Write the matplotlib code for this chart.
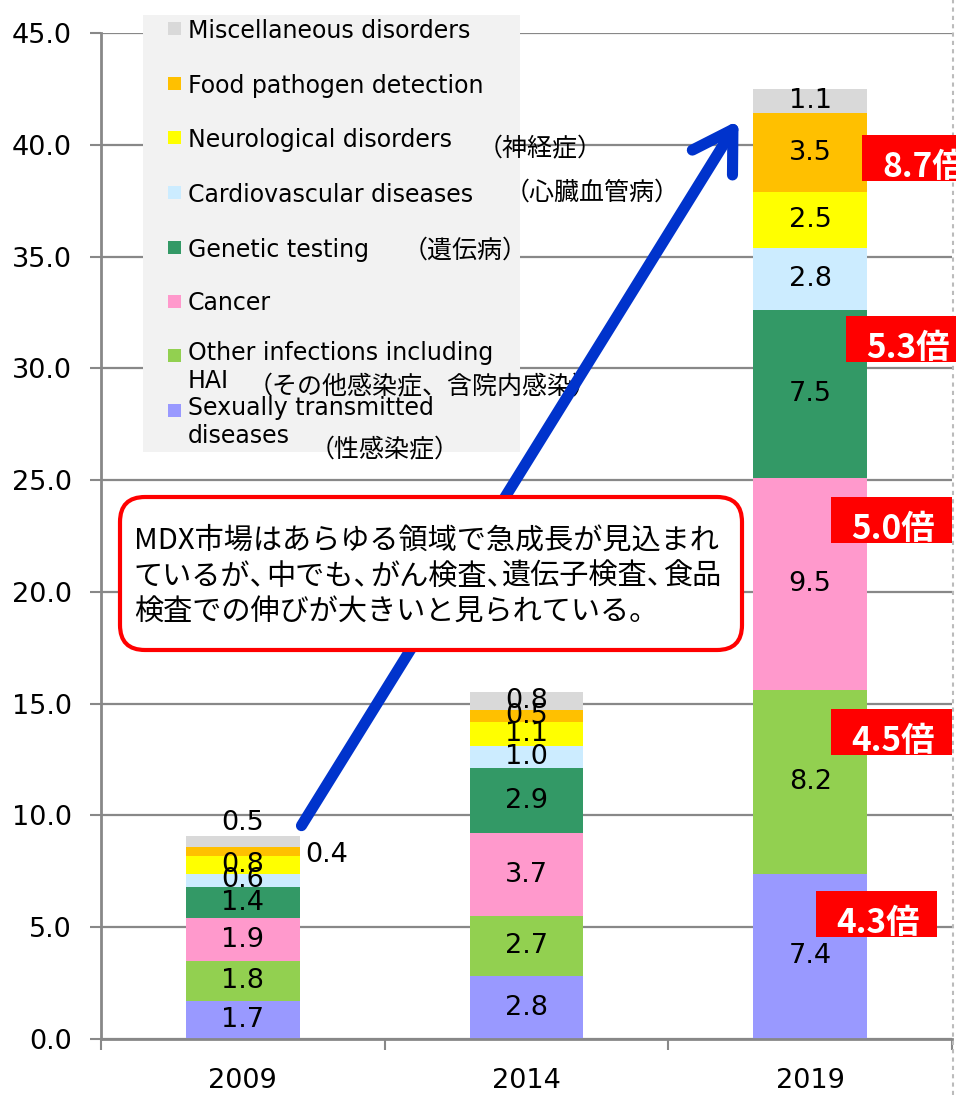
import matplotlib
matplotlib.use('Agg')
import matplotlib.pyplot as plt
from matplotlib.patches import Rectangle, FancyBboxPatch, FancyArrowPatch
import numpy as np

plt.rcParams['font.family'] = ['DejaVu Sans', 'Noto Sans CJK JP']

years = ['2009', '2014', '2019']

# stacking order, bottom to top
categories = ['Sexually transmitted\ndiseases', 'Other infections including\nHAI', 'Cancer',
              'Genetic testing', 'Cardiovascular diseases', 'Neurological disorders',
              'Food pathogen detection', 'Miscellaneous disorders']
jp_notes = ['（性感染症）', '（その他感染症、含院内感染）', '', '（遺伝病）',
            '（心臓血管病）', '（神経症）', '', '']
colors = ['#9999FF', '#92D050', '#FF99CC', '#339966', '#CCECFF', '#FFFF00', '#FFC000', '#D9D9D9']

std = [1.7, 2.8, 7.4]
other_inf = [1.8, 2.7, 8.2]
cancer = [1.9, 3.7, 9.5]
genetic = [1.4, 2.9, 7.5]
cardio = [0.6, 1.0, 2.8]
neuro = [0.8, 1.1, 2.5]
food = [0.4, 0.5, 3.5]
misc = [0.5, 0.8, 1.1]
series = [std, other_inf, cancer, genetic, cardio, neuro, food, misc]

growth = ['4.3倍', '4.5倍', '5.0倍', '5.3倍', '8.7倍']

callout = 'MDX市場はあらゆる領域で急成長が見込まれ\nているが、中でも、がん検査、遺伝子検査、食品\n検査での伸びが大きいと見られている。'

W, H = 956, 1095
fig = plt.figure(figsize=(W / 100, H / 100), dpi=100)
ax = fig.add_axes([101 / W, 56 / H, 851 / W, 1006 / H])


def px(x, y):
    # pixel position (from top-left) -> inches for dpi_scale_trans
    return x / 100, (H - y) / 100


pix = fig.dpi_scale_trans

x = np.arange(len(years))
bottom = np.zeros(len(years))
for i, vals in enumerate(series):
    ax.bar(x, vals, 0.4, bottom=bottom, color=colors[i], zorder=2)
    for j, v in enumerate(vals):
        cx, cy, ha = x[j], bottom[j] + v / 2, 'center'
        if j == 0 and i == 7:
            cy = bottom[j] + v + 0.55
        if j == 0 and i == 6:
            cx, cy, ha = x[j] + 0.22, bottom[j] + v / 2 - 0.15, 'left'
        ax.text(cx, cy, f'{v:.1f}', ha=ha, va='center', fontsize=19.5, zorder=3)
    bottom += np.array(vals)

ax.set_xlim(-0.5, 2.5)
ax.set_ylim(0, 45)
ax.set_yticks(np.arange(0, 46, 5))
ax.set_yticklabels([f'{t:.1f}' for t in np.arange(0, 46, 5)], fontsize=19.5)
ax.set_xticks(x)
ax.set_xticklabels(years, fontsize=19.5)
ax.set_xticks([-0.5, 0.5, 1.5, 2.5], minor=True)
ax.tick_params(axis='x', which='major', length=0, pad=21)
ax.tick_params(axis='x', which='minor', length=8, width=1.5, color='#888888')
ax.tick_params(axis='y', length=8, width=1.5, color='#888888', pad=13)
ax.yaxis.grid(True, color='#888888', linewidth=1.6, zorder=0)
ax.set_axisbelow(True)
for s in ['top', 'right']:
    ax.spines[s].set_visible(False)
for s in ['left', 'bottom']:
    ax.spines[s].set_color('#888888')
    ax.spines[s].set_linewidth(2)

# legend panel
fig.patches.append(Rectangle(px(143, 452), 3.77, 4.37, transform=pix, facecolor='#F2F2F2',
                             edgecolor='none', zorder=1))
item_y = [410, 355, 301, 247, 192, 137, 83, 28]
note_pos = [(310, 450), (248, 387), None, (403, 251), (505, 193), (478, 149), None, None]
for i, name in enumerate(categories):
    yy = item_y[i]
    fig.patches.append(Rectangle(px(168, yy + 7), 0.13, 0.13, transform=pix,
                                 facecolor=colors[i], edgecolor='none', zorder=2))
    if '\n' in name:
        fig.text(*px(188, yy - 14), name, transform=pix, fontsize=17, va='top',
                 ha='left', linespacing=1.2, zorder=3)
    else:
        fig.text(*px(188, yy), name, transform=pix, fontsize=17, va='center_baseline',
                 ha='left', zorder=3)
    if note_pos[i] is not None:
        fig.text(*px(*note_pos[i]), jp_notes[i], transform=pix, fontsize=18,
                 family=['Noto Sans CJK JP'], va='center', ha='left', zorder=3)

# arrow
arrow = FancyArrowPatch(px(300, 828), px(740, 118), transform=pix,
                        arrowstyle='->,head_length=1.4,head_width=0.85', mutation_scale=20,
                        color='#0033CC', linewidth=8, capstyle='round',
                        joinstyle='round', zorder=4)
fig.patches.append(arrow)

# callout box
box = FancyBboxPatch(px(120, 650), 6.22, 1.53, transform=pix,
                     boxstyle='round,pad=0,rounding_size=0.25',
                     facecolor='white', edgecolor='#FF0000', linewidth=3, zorder=5)
fig.patches.append(box)

# draw callout lines in pieces so the ideographic comma takes half width
renderer = fig.canvas.get_renderer()
fs = 21
em = fs * 100 / 72
for k, line in enumerate(callout.split('\n')):
    pieces = line.split('、')
    cx = 134
    for n, piece in enumerate(pieces):
        s = piece + ('、' if n < len(pieces) - 1 else '')
        if not s:
            continue
        t = fig.text(*px(cx, 541 + 36 * k), s, transform=pix, fontsize=fs,
                     family=['Noto Sans CJK JP'], va='center', ha='left', zorder=6)
        bb = t.get_window_extent(renderer)
        cx = cx + bb.width
        if n < len(pieces) - 1:
            cx -= 0.45 * em

# growth badges
badge_pos = [(816, 891), (831, 709), (831, 497), (846, 316), (862, 135)]
for lbl, (bx, by) in zip(growth, badge_pos):
    fig.patches.append(Rectangle(px(bx, by + 46), 1.21, 0.46, transform=pix,
                                 facecolor='#FF0000', edgecolor='none', zorder=5))
    fig.text(*px(bx + 20, by + 42), lbl, transform=pix, fontsize=24, color='white',
             fontweight='bold', family=['Noto Sans CJK JP'], va='baseline', ha='left', zorder=6)

# dashed frame edge at right
fig.add_artist(plt.Line2D([953 / W, 953 / W], [0, 1], color='#BBBBBB', linewidth=1.5,
                          linestyle=(0, (2, 2))))

fig.savefig('out.png', dpi=100)
